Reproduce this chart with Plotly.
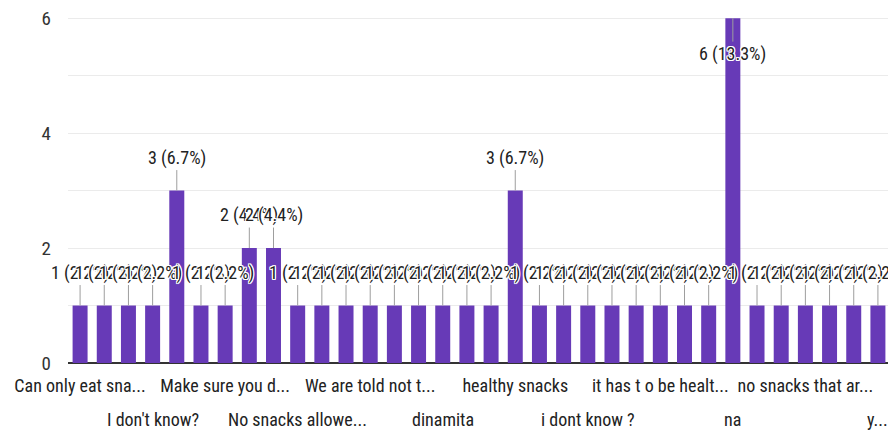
import plotly.graph_objects as go

categories = ["Can only eat sna...", "", "", "I don't know?", "", "", "Make sure you d...", "", "",
              "No snacks allowe...", "", "", "We are told not t...", "", "", "dinamita", "", "",
              "healthy snacks", "", "", "i dont know ?", "", "", "it has t o be healt...", "", "",
              "na", "", "", "no snacks that ar...", "", "", "y..."]
counts = [1, 1, 1, 1, 3, 1, 1, 2, 2, 1, 1, 1, 1, 1, 1, 1, 1, 1, 3, 1, 1, 1, 1, 1, 1, 1, 1, 6, 1, 1, 1, 1, 1, 1]
y_tick_values = [0, 2, 4, 6]

total = sum(counts)
x = list(range(len(categories)))
FONT = "Liberation Sans Narrow, Arial Narrow, Roboto Condensed, Liberation Sans, sans-serif"
PURPLE = "#673ab7"
HALO = "-1px -1px 0 #fff, 1px -1px 0 #fff, -1px 1px 0 #fff, 1px 1px 0 #fff, 0 1px 0 #fff, 0 -1px 0 #fff, 1px 0 0 #fff, -1px 0 0 #fff"

fig = go.Figure(go.Bar(x=x, y=counts, marker=dict(color=PURPLE, line=dict(width=0)),
                       width=0.62, hoverinfo="skip"))

ymax = max(counts)
annotations = []
for i, c in enumerate(counts):
    txt = f"{c} ({c / total * 100:.1f}%)"
    ay = 36 if c == ymax else -33
    annotations.append(dict(x=i, y=c, xref="x", yref="y", text=txt, showarrow=True,
                            arrowhead=0, arrowwidth=1, arrowcolor="#9e9e9e", ax=0, ay=ay,
                            font=dict(family=FONT, size=18, color="#222222", shadow=HALO)))

row1_vals, row1_text = [], []
for k, i in enumerate([i for i, c in enumerate(categories) if c]):
    if k % 2 == 0:
        row1_vals.append(i)
        row1_text.append(categories[i])
    else:
        annotations.append(dict(x=i, y=0, xref="x", yref="paper", text=categories[i],
                                showarrow=False, yanchor="middle", yshift=-56,
                                font=dict(family=FONT, size=18, color="#222222")))

# page body has an 8px default margin, so the figure is sized/offset to compensate
fig.update_layout(
    width=888, height=425,
    margin=dict(l=60, r=6, t=9, b=70, autoexpand=False),
    paper_bgcolor="white", plot_bgcolor="white",
    showlegend=False,
    bargap=0.38,
    font=dict(family=FONT, size=18, color="#222222"),
    annotations=annotations,
    shapes=[dict(type="rect", xref="paper", yref="paper", x0=1.0, x1=1.0075, y0=-0.25, y1=1.1,
                 fillcolor=PURPLE, line=dict(width=0), layer="above")],
)
fig.update_xaxes(range=[-0.5, len(categories) - 0.5], tickmode="array", tickvals=row1_vals,
                 ticktext=row1_text, tickangle=0, showgrid=False, ticks="",
                 showline=False, zeroline=False, ticklabelstandoff=10, automargin=False,
                 ticklabeloverflow="allow",
                 tickfont=dict(family=FONT, size=18, color="#222222"))
fig.update_yaxes(range=[0, 6.02], tickmode="array", tickvals=y_tick_values, showgrid=True,
                 gridcolor="#ebebeb", gridwidth=1, minor=dict(dtick=1, showgrid=True, gridcolor="#ebebeb"),
                 zeroline=True, zerolinecolor="#333333", zerolinewidth=2, ticks="",
                 ticklabelstandoff=16, automargin=False, ticklabeloverflow="allow",
                 tickfont=dict(family=FONT, size=19, color="#333333"))

fig.write_html("out.html")
